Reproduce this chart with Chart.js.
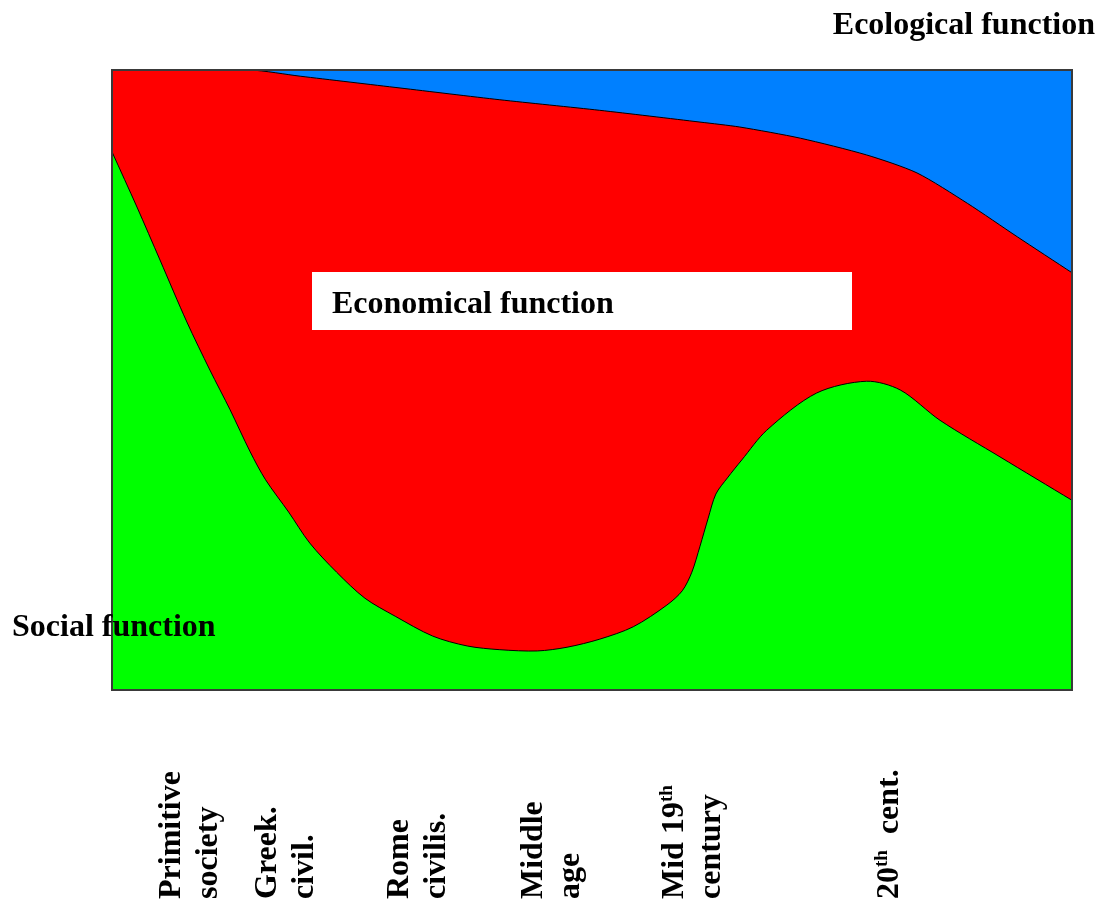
<!DOCTYPE html>
<html>
<head>
<meta charset="utf-8">
<script src="https://cdn.jsdelivr.net/npm/chart.js@4.4.0/dist/chart.umd.min.js"></script>
<style>
  html, body { margin: 0; padding: 0; background: #fff; }
  #wrap { width: 1099px; height: 899px; position: relative; }
</style>
</head>
<body>
<div id="wrap"><canvas id="funcChart"></canvas></div>
<script>
// Social function (green) upper boundary
const socialX = [0, 2.6, 5.0, 7.8, 10.2, 12.3, 14.4, 16.0, 18.4, 20.6, 23.4, 26.35, 29.5, 33.4, 37.0, 40.4, 44.3, 47.4, 50.8, 54.3, 57.8, 59.4, 60.4, 61.25, 62.1, 62.9, 64.1, 65.6, 68.2, 73.4, 78.6, 82.1, 86.25, 92.5, 100];
const socialY = [86.8, 77.9, 69.35, 59.35, 51.6, 45.2, 38.4, 33.9, 28.7, 23.7, 19.0, 14.8, 11.9, 8.7, 7.1, 6.5, 6.3, 6.9, 8.2, 10.2, 13.7, 16.0, 19.0, 23.2, 27.7, 31.6, 34.2, 37.1, 41.9, 47.9, 49.8, 48.4, 43.5, 37.6, 30.6];

// Economical function (red) upper boundary
const econX = [0, 14.4, 19.6, 30, 40.4, 50.8, 61.25, 65.4, 71.7, 78.6, 83.85, 89.1, 94.3, 100];
const econY = [100, 100, 99.0, 97.1, 95.2, 93.5, 91.6, 90.8, 89.0, 86.3, 83.4, 78.5, 73.1, 67.3];

// Ecological function (blue) fills to the top
const ecoX = [0, 100];
const ecoY = [100, 100];

// era labels, one entry per line; superscripts marked with ^
const eraLabels = [
  ["Primitive", "society"],
  ["Greek.", "civil."],
  ["Rome", "civilis."],
  ["Middle", "age"],
  ["Mid 19^th", "century"],
  ["20^th  cent."]
];
const eraPos = [7.1, 17.1, 30.8, 44.8, 59.5, 81.9];

const toPoints = (xs, ys) => xs.map((x, i) => ({ x: x, y: ys[i] }));

const FONT = "bold 32px 'Liberation Serif', 'Times New Roman', serif";
const SUP = "bold 19px 'Liberation Serif', 'Times New Roman', serif";

function drawRich(ctx, text, x, y) {
  // text with ^sup parts, drawn left to right from (x, y)
  const parts = text.split("^");
  let cx = x;
  parts.forEach((p, i) => {
    if (i === 0) {
      ctx.font = FONT;
      ctx.fillText(p, cx, y);
      cx += ctx.measureText(p).width;
    } else {
      const sup = p.slice(0, 2);
      const rest = p.slice(2);
      ctx.font = SUP;
      ctx.fillText(sup, cx, y - 11);
      cx += ctx.measureText(sup).width;
      ctx.font = FONT;
      ctx.fillText(rest, cx, y);
      cx += ctx.measureText(rest).width;
    }
  });
}

const overlay = {
  id: "overlay",
  afterDatasetsDraw(chart) {
    const ctx = chart.ctx;
    const a = chart.chartArea;
    const xs = chart.scales.x;
    ctx.save();
    // frame
    ctx.strokeStyle = "#3a3a3a";
    ctx.lineWidth = 2;
    ctx.strokeRect(a.left, a.top, a.right - a.left, a.bottom - a.top);

    ctx.fillStyle = "#000";
    ctx.textBaseline = "alphabetic";
    ctx.textAlign = "left";
    ctx.font = FONT;

    // white label box
    ctx.fillStyle = "#fff";
    ctx.fillRect(312, 272, 540, 58);
    ctx.fillStyle = "#000";
    ctx.fillText("Economical function", 332, 313);

    ctx.fillText("Social function", 12, 636);
    ctx.textAlign = "right";
    ctx.fillText("Ecological function", 1095, 34);
    ctx.textAlign = "left";

    // rotated era labels
    eraLabels.forEach((lines, i) => {
      const bx = xs.getPixelForValue(eraPos[i]);
      lines.forEach((line, j) => {
        ctx.save();
        ctx.translate(bx + j * 37, 899);
        ctx.rotate(-Math.PI / 2);
        drawRich(ctx, line, 0, 0);
        ctx.restore();
      });
    });
    ctx.restore();
  }
};

new Chart(document.getElementById("funcChart").getContext("2d"), {
  type: "scatter",
  data: {
    datasets: [
      {
        label: "Social function",
        data: toPoints(socialX, socialY),
        showLine: true,
        borderColor: "#000",
        borderWidth: 1,
        backgroundColor: "#00ff00",
        fill: "start",
        tension: 0.3,
      },
      {
        label: "Economical function",
        data: toPoints(econX, econY),
        showLine: true,
        borderColor: "#000",
        borderWidth: 1,
        backgroundColor: "#ff0000",
        fill: "start",
        tension: 0.25,
      },
      {
        label: "Ecological function",
        data: toPoints(ecoX, ecoY),
        showLine: true,
        borderColor: "#0080ff",
        borderWidth: 0,
        backgroundColor: "#0080ff",
        fill: "start",
      },
    ],
  },
  options: {
    responsive: true,
    maintainAspectRatio: false,
    animation: false,
    layout: { padding: { left: 112, right: 27, top: 70, bottom: 209 } },
    elements: { point: { radius: 0, hoverRadius: 0 } },
    scales: {
      x: { type: "linear", min: 0, max: 100, display: false },
      y: { type: "linear", min: 0, max: 100, display: false },
    },
    plugins: {
      legend: { display: false },
      tooltip: { enabled: false },
    },
  },
  plugins: [overlay],
});
</script>
</body>
</html>
